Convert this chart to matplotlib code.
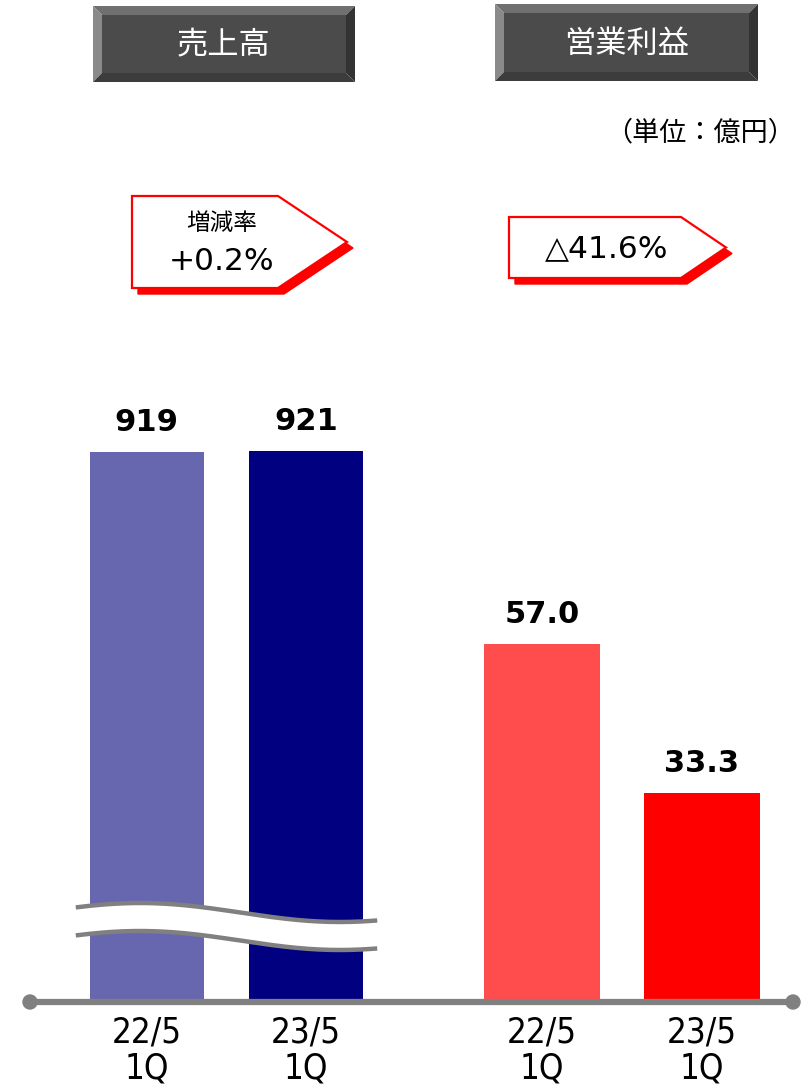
import numpy as np
import matplotlib
matplotlib.use("Agg")
import matplotlib.pyplot as plt
from matplotlib.patches import Polygon, Circle

plt.rcParams['font.family'] = ['Noto Sans CJK JP', 'DejaVu Sans']

# data
periods = ["22/5\n1Q", "23/5\n1Q"]
sales = [919, 921]
profit = [57.0, 33.3]
sales_labels = ["919", "921"]
profit_labels = ["57.0", "33.3"]
sales_colors = ["#6767af", "#000080"]
profit_colors = ["#ff4d4d", "#ff0000"]
titles = ["売上高", "営業利益"]
changes = ["+0.2%", "△41.6%"]
unit = "（単位：億円）"

W, H = 811, 1084
fig = plt.figure(figsize=(W / 100, H / 100), dpi=100)

base = 1002  # pixel row of baseline
pos = [0, 1 - base / H, 1, base / H]

# bars: sales axis and profit axis share the baseline
ax_s = fig.add_axes(pos)
ax_p = fig.add_axes(pos)
for ax in (ax_s, ax_p):
    ax.set_xlim(0, W)
    ax.patch.set_visible(False)
    for s in ax.spines.values():
        s.set_visible(False)
    ax.set_yticks([])
    ax.tick_params(axis='x', length=0, pad=10, labelsize=25)

ax_s.set_ylim(0, base / 0.5985)
ax_p.set_ylim(0, base / 6.2807)

sales_x = [146.5, 306]
profit_x = [542, 702]
ax_s.bar(sales_x, sales, width=114, color=sales_colors)
ax_p.bar(profit_x, profit, width=116, color=profit_colors)

for x, v, t in zip(sales_x, sales, sales_labels):
    ax_s.annotate(t, (x, v), xytext=(0, 11), textcoords='offset points',
                  ha='center', va='bottom', fontsize=22, fontweight='bold',
                  family='DejaVu Sans')
for x, v, t in zip(profit_x, profit, profit_labels):
    ax_p.annotate(t, (x, v), xytext=(0, 11), textcoords='offset points',
                  ha='center', va='bottom', fontsize=22, fontweight='bold',
                  family='DejaVu Sans')

ax_s.set_xticks(sales_x + profit_x)
ax_s.set_xticklabels(periods + periods, linespacing=1.05,
                     family='DejaVu Sans', fontstretch='condensed')
ax_p.set_xticks([])

# overlay in pixel coordinates for decorations
ov = fig.add_axes([0, 0, 1, 1])
ov.set_xlim(0, W)
ov.set_ylim(H, 0)
ov.axis('off')
ov.patch.set_visible(False)

# wavy break across the sales bars
xw = np.linspace(78, 375, 200)
yw = 912.5 - 9.5 * np.cos(np.pi * (xw - 140) / 200)
ov.fill_between(xw, yw, yw + 28, color='white', zorder=3)
ov.plot(xw, yw, color='#808080', lw=3.2, zorder=4)
ov.plot(xw, yw + 28, color='#808080', lw=3.2, zorder=4)

# baseline with round ends
ov.plot([30, 793], [base, base], color='#808080', lw=4.5, zorder=5)
for cx in (30, 793):
    ov.add_patch(Circle((cx, base), 7, color='#808080', zorder=5))


# bevelled title boxes
def bevel_box(x0, y0, x1, y1, text, b=9):
    ov.add_patch(Polygon([(x0, y0), (x1, y0), (x1 - b, y0 + b), (x0 + b, y0 + b)],
                         color='#707070', lw=0))
    ov.add_patch(Polygon([(x0, y0), (x0 + b, y0 + b), (x0 + b, y1 - b), (x0, y1)],
                         color='#8a8a8a', lw=0))
    ov.add_patch(Polygon([(x1, y0), (x1, y1), (x1 - b, y1 - b), (x1 - b, y0 + b)],
                         color='#333333', lw=0))
    ov.add_patch(Polygon([(x0, y1), (x1, y1), (x1 - b, y1 - b), (x0 + b, y1 - b)],
                         color='#3c3c3c', lw=0))
    ov.add_patch(Polygon([(x0 + b, y0 + b), (x1 - b, y0 + b), (x1 - b, y1 - b), (x0 + b, y1 - b)],
                         color='#4b4b4b', lw=0))
    ov.text((x0 + x1) / 2, (y0 + y1) / 2 + 1, text, color='white', fontsize=22.5,
            ha='center', va='center')


bevel_box(93, 6, 355, 82, titles[0])
bevel_box(495, 4, 758, 81, titles[1])

ov.text(700, 133, unit, fontsize=19.5, ha='center', va='center')


# arrow-shaped change callouts with red shadow
def callout(x0, y0, xc, xt, y1, dx=6, dy=6):
    ym = (y0 + y1) / 2
    pts = [(x0, y0), (xc, y0), (xt, ym), (xc, y1), (x0, y1)]
    sh = [(x + dx, y + dy) for x, y in pts]
    ov.add_patch(Polygon(sh, facecolor='#ff0000', edgecolor='#ff0000', lw=1))
    ov.add_patch(Polygon(pts, facecolor='white', edgecolor='#ff0000', lw=1.6))


callout(132, 196, 278, 347, 288)
ov.text(222, 223, "増減率", fontsize=17, ha='center', va='center')
ov.text(222, 262, changes[0], fontsize=22.5, ha='center', va='center',
        family='DejaVu Sans')

callout(509, 217, 681, 726, 278)
ov.text(607, 249, changes[1], fontsize=22.5, ha='center', va='center',
        family='DejaVu Sans')

fig.savefig("out.png", dpi=100)
